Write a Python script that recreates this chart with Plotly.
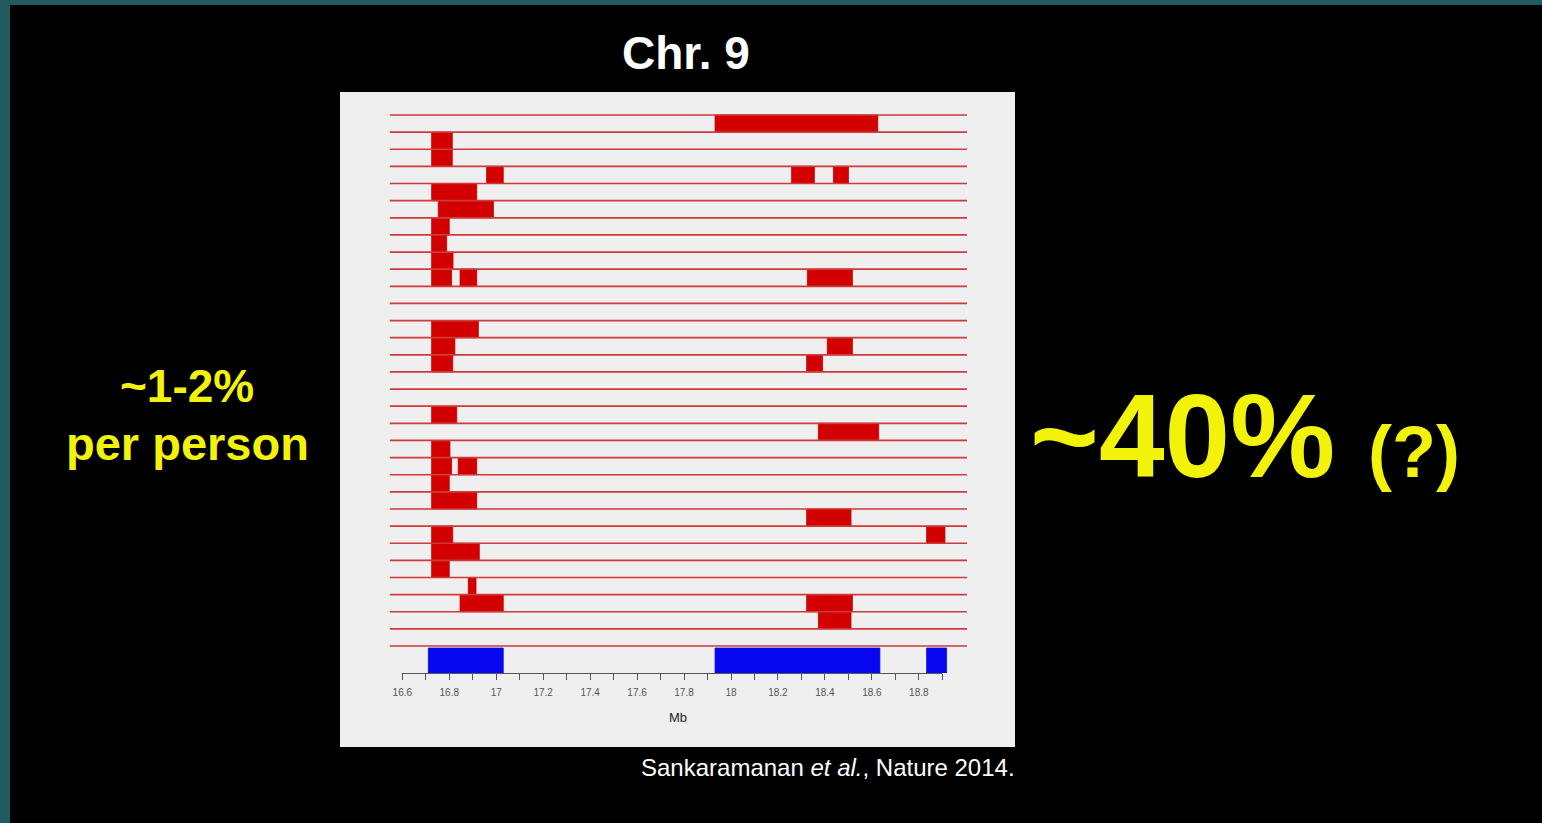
import plotly.graph_objects as go

# ---------------- data ----------------
# Introgressed (Neanderthal) segments per individual row: (row, start_Mb, end_Mb)
seg_rows = [0, 1, 2, 3, 3, 3, 4, 5, 6, 7, 8, 9, 9, 9,
            12, 13, 13, 14, 14, 17, 18, 19, 20, 20, 21, 22, 23,
            24, 24, 25, 26, 27, 28, 28, 29]
seg_start = [17.932, 16.725, 16.725, 16.959, 18.258, 18.436, 16.725, 16.753, 16.725, 16.725,
             16.725, 16.725, 16.846, 18.325,
             16.725, 16.725, 18.410, 16.725, 18.322, 16.725, 18.372, 16.725, 16.725, 16.838,
             16.725, 16.725, 18.322,
             16.725, 18.833, 16.725, 16.725, 16.881, 16.846, 18.322, 18.372]
seg_end = [18.625, 16.813, 16.813, 17.030, 18.355, 18.500, 16.917, 16.988, 16.800, 16.789,
           16.816, 16.810, 16.917, 18.517,
           16.924, 16.824, 18.517, 16.815, 18.390, 16.832, 18.629, 16.803, 16.810, 16.917,
           16.800, 16.917, 18.511,
           16.815, 18.911, 16.928, 16.800, 16.914, 17.030, 18.517, 18.511]

n_rows = 31                      # individuals (bands between 32 separator lines)
line_start_mb = 16.547
line_end_mb = 19.005

# Combined (union) of introgressed segments
union_start = [16.711, 17.932, 18.833]
union_end = [17.030, 18.634, 18.918]

tick_values = [16.6, 16.7, 16.8, 16.9, 17.0, 17.1, 17.2, 17.3, 17.4, 17.5, 17.6, 17.7,
               17.8, 17.9, 18.0, 18.1, 18.2, 18.3, 18.4, 18.5, 18.6, 18.7, 18.8, 18.9]
tick_labels = ["16.6", "", "16.8", "", "17", "", "17.2", "", "17.4", "", "17.6", "",
               "17.8", "", "18", "", "18.2", "", "18.4", "", "18.6", "", "18.8", ""]

# ---------------- figure geometry ----------------
W, H = 1542, 823
FONT = "Liberation Sans, Arial, sans-serif"
Y_TOP, Y_BOTTOM = -1.343, 32.575
UNION_TOP = 31.12

# ---------------- traces ----------------
rx, ry = [], []
for r, s, e in zip(seg_rows, seg_start, seg_end):
    rx += [s, e, e, s, s, None]
    ry += [r, r, r + 1, r + 1, r, None]

lx, ly = [], []
for k in range(n_rows + 1):
    lx += [line_start_mb, line_end_mb, None]
    ly += [k, k, None]

bx, by = [], []
for s, e in zip(union_start, union_end):
    bx += [s, e, e, s, s, None]
    by += [UNION_TOP, UNION_TOP, Y_BOTTOM, Y_BOTTOM, UNION_TOP, None]

fig = go.Figure()
fig.add_trace(go.Scatter(x=rx, y=ry, mode="lines", fill="toself", fillcolor="#d20000",
                         line=dict(color="#c00000", width=0.8), xaxis="x2", yaxis="y",
                         hoverinfo="skip", showlegend=False))
fig.add_trace(go.Scatter(x=lx, y=ly, mode="lines", line=dict(color="#cf3a3a", width=1.7),
                         xaxis="x2", yaxis="y", hoverinfo="skip", showlegend=False))
fig.add_trace(go.Scatter(x=bx, y=by, mode="lines", fill="toself", fillcolor="#0808f0",
                         line=dict(color="#0808f0", width=0.8), xaxis="x2", yaxis="y",
                         hoverinfo="skip", showlegend=False))
fig.add_trace(go.Scatter(x=[], y=[], xaxis="x", yaxis="y", showlegend=False))

PANEL = "#efefef"
YEL = "#f2f20a"


def ann(text, px, py, size, color, xanchor="center"):
    return dict(text=text, x=px / W, y=1 - py / H, xref="paper", yref="paper",
                xanchor=xanchor, yanchor="middle", showarrow=False,
                font=dict(family=FONT, size=size, color=color))


fig.update_layout(
    template="none",
    width=W, height=H, autosize=False,
    margin=dict(l=0, r=0, t=0, b=0, pad=0, autoexpand=False),
    paper_bgcolor="#235a5e",
    plot_bgcolor=PANEL,
    showlegend=False,
    xaxis=dict(domain=[402.3 / W, 942.3 / W], range=[16.6, 18.9], anchor="y",
               automargin=False,
               showline=True, linecolor="#555555", linewidth=1,
               ticks="outside", ticklen=6, tickwidth=1, tickcolor="#555555",
               tickvals=tick_values, ticktext=tick_labels, ticklabelstandoff=4,
               tickfont=dict(family=FONT, size=10, color="#555555"),
               showgrid=False, zeroline=False, fixedrange=True),
    xaxis2=dict(domain=[340 / W, 1015 / W], range=[16.3347, 19.2094], anchor="y",
                visible=False, fixedrange=True, automargin=False),
    yaxis=dict(domain=[1 - 673 / H, 1 - 92 / H], range=[Y_BOTTOM, Y_TOP], anchor="x",
               visible=False, fixedrange=True, automargin=False),
    shapes=[
        dict(type="rect", xref="paper", yref="paper", x0=10 / W, x1=1, y0=0, y1=1 - 5 / H,
             fillcolor="#000000", line=dict(width=0), layer="below"),
        dict(type="rect", xref="paper", yref="paper", x0=340 / W, x1=1015 / W,
             y0=1 - 747 / H, y1=1 - 92 / H, fillcolor=PANEL, line=dict(width=0), layer="below"),
    ],
    annotations=[
        ann("<b>Chr. 9</b>", 686, 53, 46, "#ffffff"),
        ann("<b>~1-2%</b>", 187, 386, 46, YEL),
        ann("<b>per person</b>", 187, 443, 47, YEL),
        ann("<b>~40%</b>", 1182, 436, 118, YEL),
        ann("<b>(?)</b>", 1414, 452, 72, YEL),
        ann("Mb", 678, 717, 13, "#222222"),
        ann("Sankaramanan <i>et al.</i>, Nature 2014.", 1017, 767, 24, "#ffffff", xanchor="right"),
    ],
)

fig.write_html("out.html", config={"displayModeBar": False},
               post_script="document.body.style.margin='0';document.body.style.background='#000';")
